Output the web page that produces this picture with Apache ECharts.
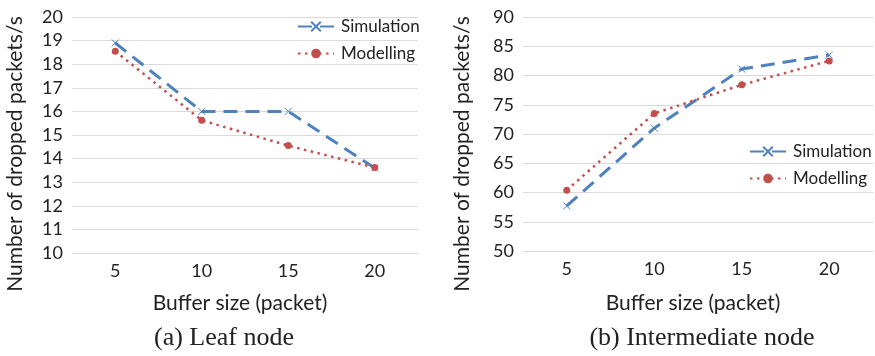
<!DOCTYPE html>
<html>
<head>
<meta charset="utf-8">
<script src="https://cdn.jsdelivr.net/npm/echarts@6/dist/echarts.min.js"></script>
<style>
  html, body { margin: 0; padding: 0; background: #fff; }
  #main { width: 875px; height: 356px; }
</style>
</head>
<body>
<div id="main"></div>
<script>
// buffer sizes (packet)
var categories = ['5', '10', '15', '20']
// (a) leaf node
var leafSimulation = [18.9, 16.0, 16.0, 13.6]
var leafModelling = [18.55, 15.62, 14.55, 13.62]
// (b) intermediate node
var interSimulation = [57.7, 71.0, 81.1, 83.5]
var interModelling = [60.4, 73.5, 78.4, 82.5]

var font = 'Lato'
var blue = '#4F81BD'
var red = '#C0504D'
var cross = 'path://M0,0L10,10M10,0L0,10'

function simSeries(data, idx) {
  return {
    name: 'Simulation',
    type: 'line',
    xAxisIndex: idx,
    yAxisIndex: idx,
    data: data,
    symbol: cross,
    symbolSize: 7,
    lineStyle: { color: blue, width: 3, type: [14, 8] },
    itemStyle: { color: 'rgba(0,0,0,0)', borderColor: blue, borderWidth: 1 }
  }
}
function modSeries(data, idx) {
  return {
    name: 'Modelling',
    type: 'line',
    xAxisIndex: idx,
    yAxisIndex: idx,
    data: data,
    symbol: 'circle',
    symbolSize: 7,
    lineStyle: { color: red, width: 2.5, type: [2.5, 4.5] },
    itemStyle: { color: red }
  }
}
function xAx(idx) {
  return {
    type: 'category',
    gridIndex: idx,
    data: categories,
    axisLine: { show: false },
    axisTick: { show: false },
    axisLabel: { color: '#222', fontSize: 18, fontFamily: font, margin: 9 }
  }
}
function yAx(idx, min, max, interval) {
  return {
    type: 'value',
    gridIndex: idx,
    min: min,
    max: max,
    interval: interval,
    axisLine: { show: false },
    axisTick: { show: false },
    axisLabel: { color: '#222', fontSize: 18, fontFamily: font, margin: 9 },
    splitLine: { lineStyle: { color: '#d9d9d9', width: 1 } }
  }
}
function legend(left, top) {
  return {
    orient: 'vertical',
    left: left,
    top: top,
    padding: 0,
    itemWidth: 36,
    itemHeight: 12,
    itemGap: 10,
    textStyle: { color: '#222', fontSize: 17, fontFamily: font, padding: [0, 0, 0, 2] },
    data: ['Simulation', 'Modelling']
  }
}
function label(text, x, y, opts) {
  var t = {
    type: 'text',
    x: x,
    y: y,
    style: {
      text: text,
      fill: '#222',
      font: opts.font,
      textAlign: 'center',
      textVerticalAlign: 'middle'
    }
  }
  if (opts.rotate) t.rotation = Math.PI / 2
  return t
}

var chart = echarts.init(document.getElementById('main'))
chart.setOption({
  animation: false,
  grid: [
    { left: 72, right: 457, top: 17, bottom: 103 },
    { left: 523, right: 2, top: 17, bottom: 105 }
  ],
  legend: [legend(297, 18), legend(749, 143)],
  xAxis: [xAx(0), xAx(1)],
  yAxis: [yAx(0, 10, 20, 1), yAx(1, 50, 90, 5)],
  series: [
    simSeries(leafSimulation, 0),
    modSeries(leafModelling, 0),
    simSeries(interSimulation, 1),
    modSeries(interModelling, 1)
  ],
  graphic: [
    label('Number of dropped packets/s', 15, 154, { font: '21px Lato', rotate: true }),
    label('Number of dropped packets/s', 462, 154, { font: '21px Lato', rotate: true }),
    label('Buffer size (packet)', 240, 303, { font: '21px Lato' }),
    label('Buffer size (packet)', 693, 303, { font: '21px Lato' }),
    label('(a) Leaf node', 224, 338, { font: '26px "Liberation Serif"' }),
    label('(b) Intermediate node', 702, 338, { font: '26px "Liberation Serif"' })
  ]
})
</script>
</body>
</html>
